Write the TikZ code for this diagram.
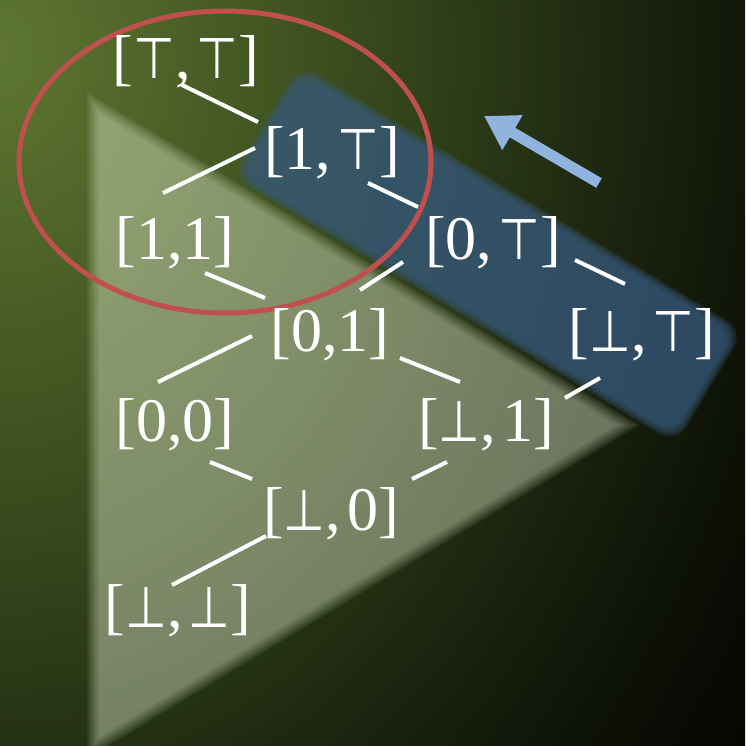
\documentclass[tikz,border=0pt]{standalone}
\usepackage{fontspec}
\setmainfont{Liberation Serif}
\newfontfamily\symfont[Scale=0.92,FakeStretch=0.84]{DejaVu Sans}
\newcommand\Tsym{{\symfont ⊤}}
\newcommand\Bsym{{\symfont ⊥}}
\usetikzlibrary{arrows.meta,calc}
\definecolor{bgA}{RGB}{94,118,50}
\definecolor{bgB}{RGB}{62,82,32}
\definecolor{bgC}{RGB}{30,40,16}
\definecolor{bgD}{RGB}{12,16,6}
\definecolor{paletri}{RGB}{245,255,225}
\definecolor{bandblue}{RGB}{55,90,125}
\definecolor{ringred}{RGB}{192,80,77}
\definecolor{arrowblue}{RGB}{145,180,222}
\pgfdeclareradialshading{bgrad}{\pgfpoint{0bp}{0bp}}{color(0bp)=(bgA); color(7.5bp)=(bgB); color(15bp)=(bgC); color(20bp)=(bgD); color(25bp)=(black); color(50bp)=(black)}
\begin{document}
\begin{tikzpicture}[x=1pt,y=-1pt,
  lab/.style={text=white, font=\fontsize{62}{64}\selectfont, inner sep=0pt},
  link/.style={white, line width=4pt}]
\useasboundingbox (0,0) rectangle (745,746);
% background
\begin{scope}
  \clip (0,0) rectangle (745,746);
  \shade[shading=bgrad] (-1000,-1250) rectangle (1000,1350);
  % pale triangle (soft edges)
  \foreach \d in {-6,-4,-2,0,2,4,6}{
    \fill[paletri, opacity=0.072, shift={(271.3,425.3)}, scale={1-(\d)/182}]
      (-178.3,-322.3) -- (-178.3,322.7) -- (356.7,-0.3) -- cycle;
  }
  % blue band (soft edges)
  \begin{scope}[shift={(488,254)}, rotate=-31]
    \foreach \d in {-4,-2,0,2,4}{
      \fill[bandblue, opacity=0.26, rounded corners=20pt]
        ({-(255+\d)},{-(62+\d)}) rectangle ({255+\d},{62+\d});
    }
  \end{scope}
\end{scope}
% red ring
\draw[ringred, line width=5pt] (225,162) ellipse [x radius=206pt, y radius=151pt];
% arrow
\coordinate (atail) at (599,183);
\coordinate (ahead) at (484,116);
\draw[arrowblue, line width=11pt, -{Triangle[length=33pt,width=38pt]}] (atail) -- (ahead);
% nodes
\node[lab] (ntt) at (186,62)  {[\Tsym,\hspace{0.1em}\Tsym]};
\node[lab] (n1t) at (332,153) {[1,\hspace{0.1em}\Tsym]};
\node[lab] (n11) at (175,243) {[1,1]};
\node[lab] (n0t) at (493,243) {[0,\hspace{0.1em}\Tsym]};
\node[lab] (n01) at (330,335) {[0,1]};
\node[lab] (nbt) at (642,335) {[\Bsym,\hspace{0.1em}\Tsym]};
\node[lab] (n00) at (175,425) {[0,0]};
\node[lab] (nb1) at (486,425) {[\Bsym,\hspace{0.1em}1]};
\node[lab] (nb0) at (331,514) {[\Bsym,\hspace{0.1em}0]};
\node[lab] (nbb) at (178,611) {[\Bsym,\hspace{0.1em}\Bsym]};
% connectors
\draw[link] ($(ntt)+(-4,23)$) -- ($(n1t)+(-74,-31)$);
\draw[link] ($(n1t)+(-77,-5)$) -- ($(n11)+(-12,-50)$);
\draw[link] ($(n1t)+(36,30)$) -- ($(n0t)+(-75,-36)$);
\draw[link] ($(n11)+(30,30)$) -- ($(n01)+(-65,-37)$);
\draw[link] ($(n0t)+(-90,19)$) -- ($(n01)+(30,-45)$);
\draw[link] ($(n0t)+(82,17)$) -- ($(nbt)+(-17,-51)$);
\draw[link] ($(n01)+(-78,1)$) -- ($(n00)+(-17,-43)$);
\draw[link] ($(n01)+(70,23)$) -- ($(nb1)+(-26,-43)$);
\draw[link] ($(nbt)+(-42,43)$) -- ($(nb1)+(79,-27)$);
\draw[link] ($(n00)+(35,37)$) -- ($(nb0)+(-79,-35)$);
\draw[link] ($(nb1)+(-39,37)$) -- ($(nb0)+(81,-35)$);
\draw[link] ($(nb0)+(-65,22)$) -- ($(nbb)+(-6,-26)$);
\end{tikzpicture}
\end{document}
